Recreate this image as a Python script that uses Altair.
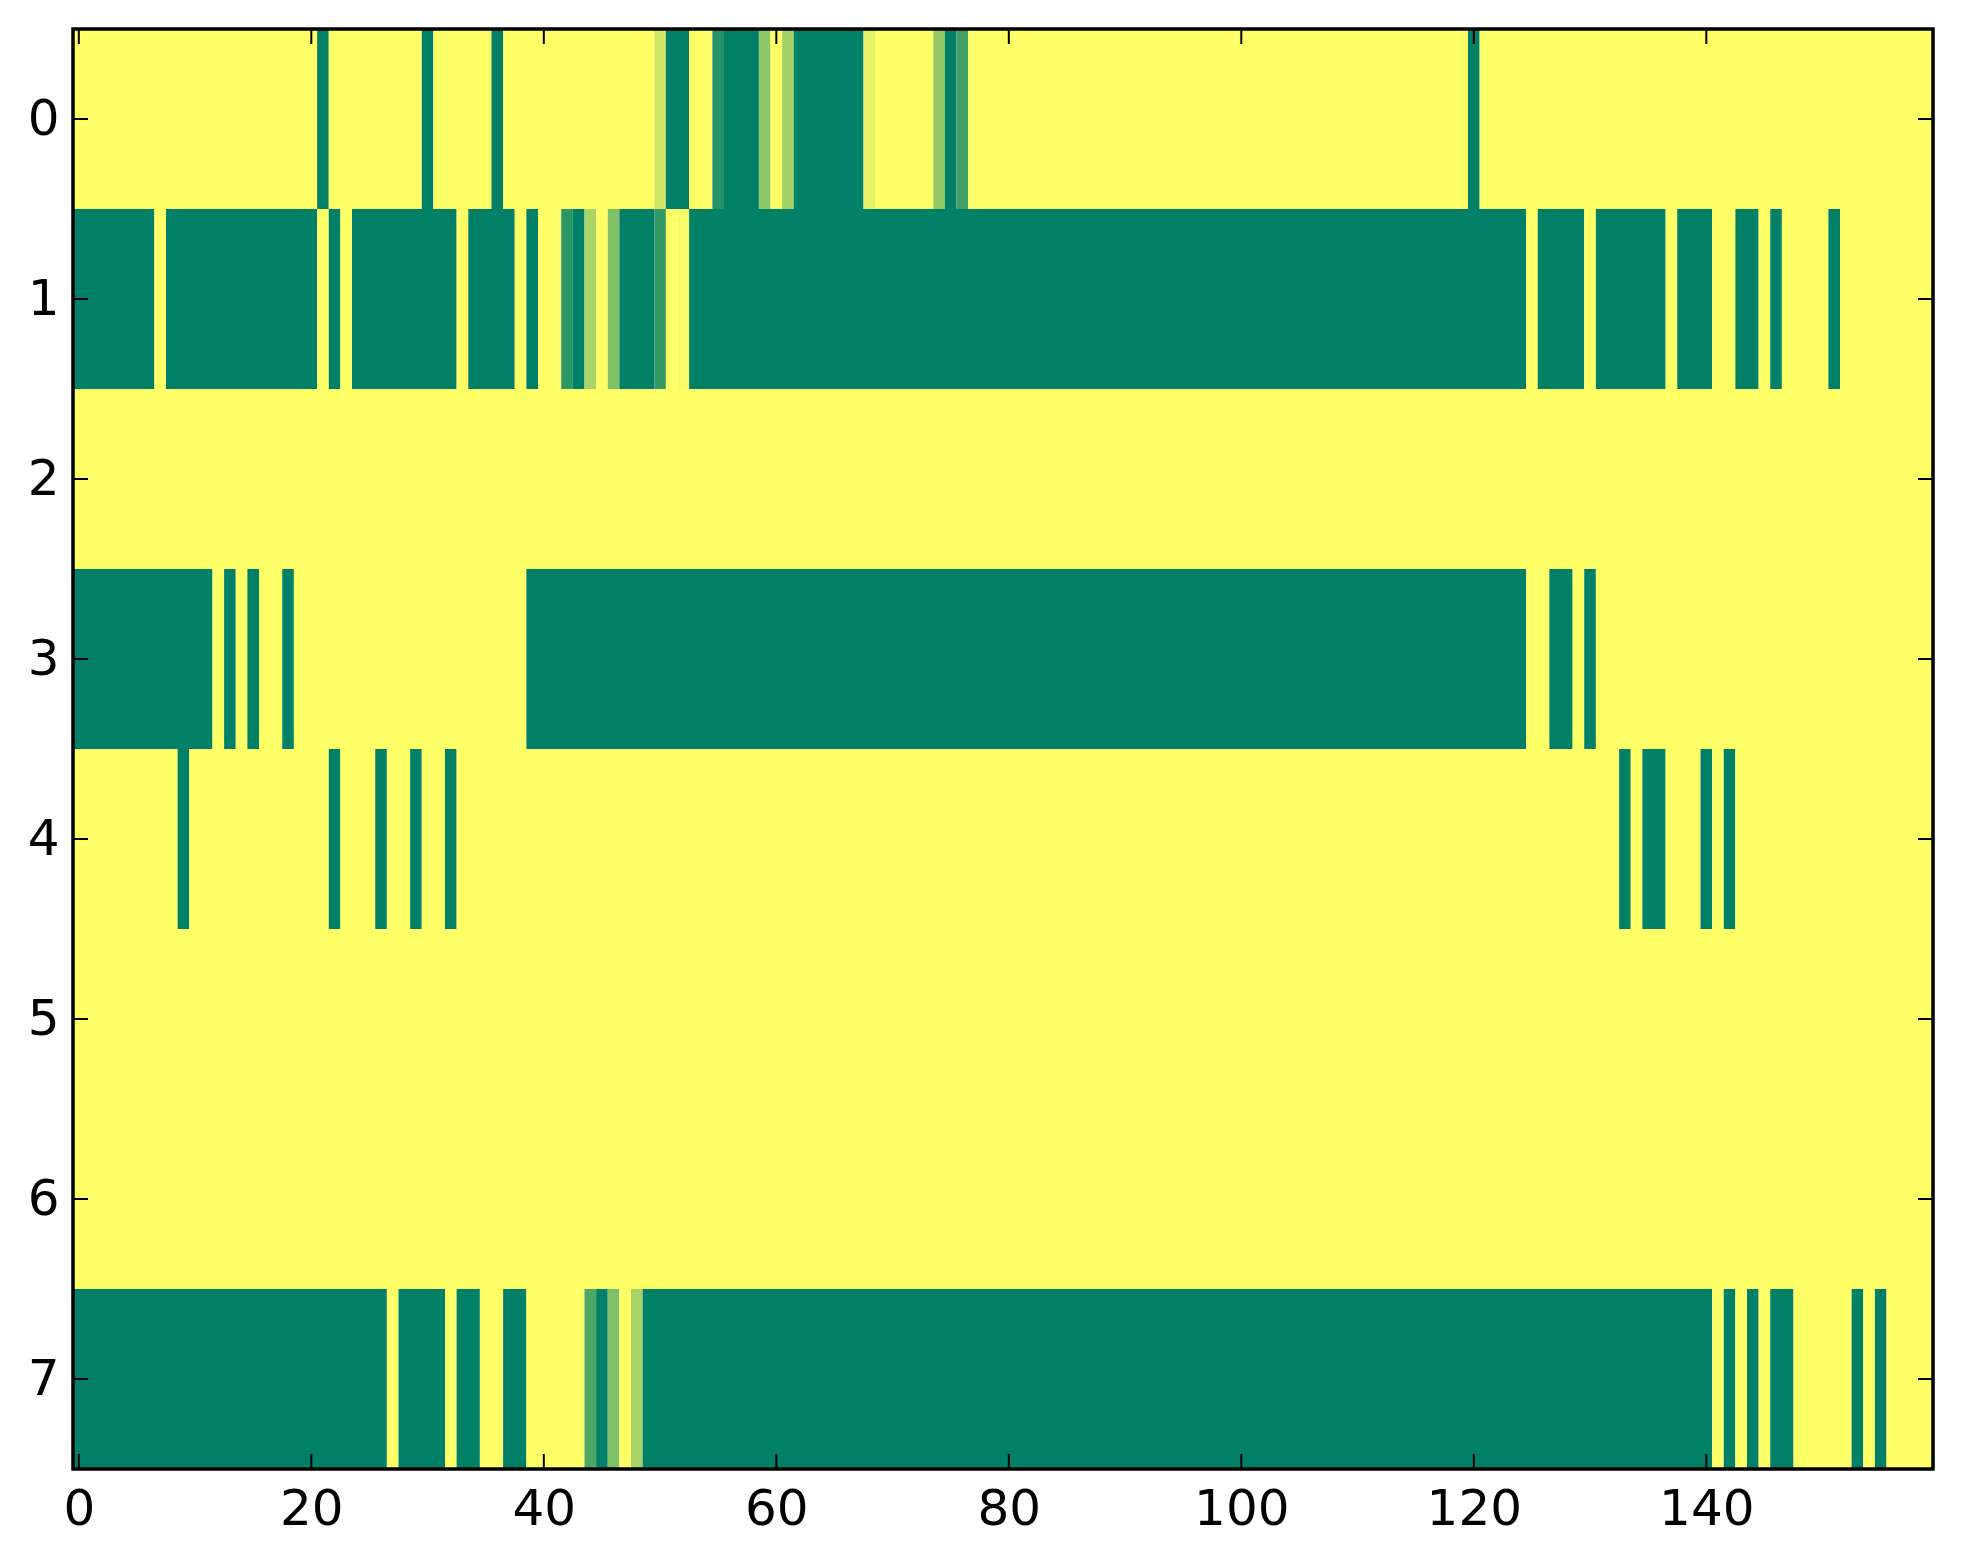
import altair as alt
import pandas as pd

# ---- data -----------------------------------------------------------------
N_ROWS = 8
N_COLS = 160
X_TICKS = [0, 20, 40, 60, 80, 100, 120, 140]
Y_TICKS = [0, 1, 2, 3, 4, 5, 6, 7]

# runs of non-zero cells per row: (first column, last column, value); all other cells are 0
row0_runs = [(21, 21, 1.0), (30, 30, 1.0), (36, 36, 1.0), (50, 50, 0.18), (51, 52, 1.0),
             (55, 55, 0.86), (56, 58, 1.0), (59, 59, 0.45), (61, 61, 0.36), (62, 67, 1.0),
             (68, 68, 0.10), (74, 74, 0.42), (75, 75, 1.0), (76, 76, 0.75), (120, 120, 1.0)]
row1_runs = [(0, 6, 1.0), (8, 20, 1.0), (22, 22, 1.0), (24, 32, 1.0), (34, 37, 1.0),
             (39, 39, 1.0), (42, 42, 0.83), (43, 43, 1.0), (44, 44, 0.33), (46, 46, 0.5),
             (47, 49, 1.0), (50, 50, 0.8), (52, 52, 0.03), (53, 124, 1.0), (126, 129, 1.0),
             (131, 136, 1.0), (138, 140, 1.0), (143, 144, 1.0), (146, 146, 1.0), (151, 151, 1.0)]
row2_runs = []
row3_runs = [(0, 11, 1.0), (13, 13, 1.0), (15, 15, 1.0), (18, 18, 1.0), (39, 124, 1.0),
             (127, 128, 1.0), (130, 130, 1.0)]
row4_runs = [(9, 9, 1.0), (22, 22, 1.0), (26, 26, 1.0), (29, 29, 1.0), (32, 32, 1.0),
             (133, 133, 1.0), (135, 136, 1.0), (140, 140, 1.0), (142, 142, 1.0)]
row5_runs = []
row6_runs = []
row7_runs = [(0, 26, 1.0), (28, 31, 1.0), (33, 34, 1.0), (37, 38, 1.0), (44, 44, 0.69),
             (45, 45, 1.0), (46, 46, 0.5), (48, 48, 0.34), (49, 140, 1.0), (142, 142, 1.0),
             (144, 144, 1.0), (146, 147, 1.0), (153, 153, 1.0), (155, 155, 1.0)]

ALL_RUNS = [row0_runs, row1_runs, row2_runs, row3_runs,
            row4_runs, row5_runs, row6_runs, row7_runs]

# ---- build the cell table (merged into same-value segments) ----------------
records = []
for r, runs in enumerate(ALL_RUNS):
    vals = [0.0] * N_COLS
    for a, b, v in runs:
        for c in range(a, b + 1):
            vals[c] = v
    start = 0
    for c in range(1, N_COLS + 1):
        if c == N_COLS or vals[c] != vals[start]:
            records.append({"row": r, "c0": start, "c1": c - 1, "v": vals[start]})
            start = c
df = pd.DataFrame(records)

W, H = 1860, 1440
FONT = "DejaVu Sans"
TL = 15  # inward tick length

xs = alt.Scale(domain=[-0.5, N_COLS - 0.5], nice=False, zero=False)
ys = alt.Scale(domain=[-0.5, N_ROWS - 0.5], nice=False, zero=False, reverse=True)

x_axis = alt.Axis(values=X_TICKS, ticks=False, domain=False, grid=False,
                  labelFontSize=50, labelFont=FONT, labelColor="black",
                  labelPadding=15, labelFlush=False, format="d", title=None)
y_axis = alt.Axis(values=Y_TICKS, ticks=False, domain=False, grid=False,
                  labelFontSize=50, labelFont=FONT, labelColor="black",
                  labelPadding=14, labelFlush=False, format="d", title=None)

cells = alt.Chart(df).transform_calculate(
    x0="datum.c0 - 0.5", x1="datum.c1 + 0.5",
    y0="datum.row - 0.5", y1="datum.row + 0.5",
).mark_rect(strokeWidth=0).encode(
    x=alt.X("x0:Q", scale=xs, axis=x_axis),
    x2="x1:Q",
    y=alt.Y("y0:Q", scale=ys, axis=y_axis),
    y2="y1:Q",
    color=alt.Color("v:Q", legend=None,
                    scale=alt.Scale(domain=[0, 1], range=["#ffff66", "#008066"],
                                    interpolate="rgb")),
)

xt = pd.DataFrame({"t": X_TICKS})
yt = pd.DataFrame({"t": Y_TICKS})

top_ticks = alt.Chart(xt).mark_rule(color="black", strokeWidth=2).encode(
    x=alt.X("t:Q", scale=xs, axis=x_axis), y=alt.value(0), y2=alt.value(TL))
bottom_ticks = alt.Chart(xt).mark_rule(color="black", strokeWidth=2).encode(
    x=alt.X("t:Q", scale=xs, axis=x_axis), y=alt.value(H - TL), y2=alt.value(H))
left_ticks = alt.Chart(yt).mark_rule(color="black", strokeWidth=2).encode(
    y=alt.Y("t:Q", scale=ys, axis=y_axis), x=alt.value(0), x2=alt.value(TL))
right_ticks = alt.Chart(yt).mark_rule(color="black", strokeWidth=2).encode(
    y=alt.Y("t:Q", scale=ys, axis=y_axis), x=alt.value(W - TL), x2=alt.value(W))

frame = alt.Chart(xt.head(1)).mark_rect(filled=False, stroke="black", strokeWidth=3.5).encode(
    x=alt.value(0), x2=alt.value(W), y=alt.value(0), y2=alt.value(H))

chart = alt.layer(cells, top_ticks, bottom_ticks, left_ticks, right_ticks, frame).properties(
    width=W, height=H,
    autosize=alt.AutoSizeParams(type="none"),
    padding={"left": 65, "top": 21, "right": 12, "bottom": 78},
    background="white",
).configure_view(stroke=None)

chart.save("out.html", embed_options={"renderer": "svg", "actions": False})
